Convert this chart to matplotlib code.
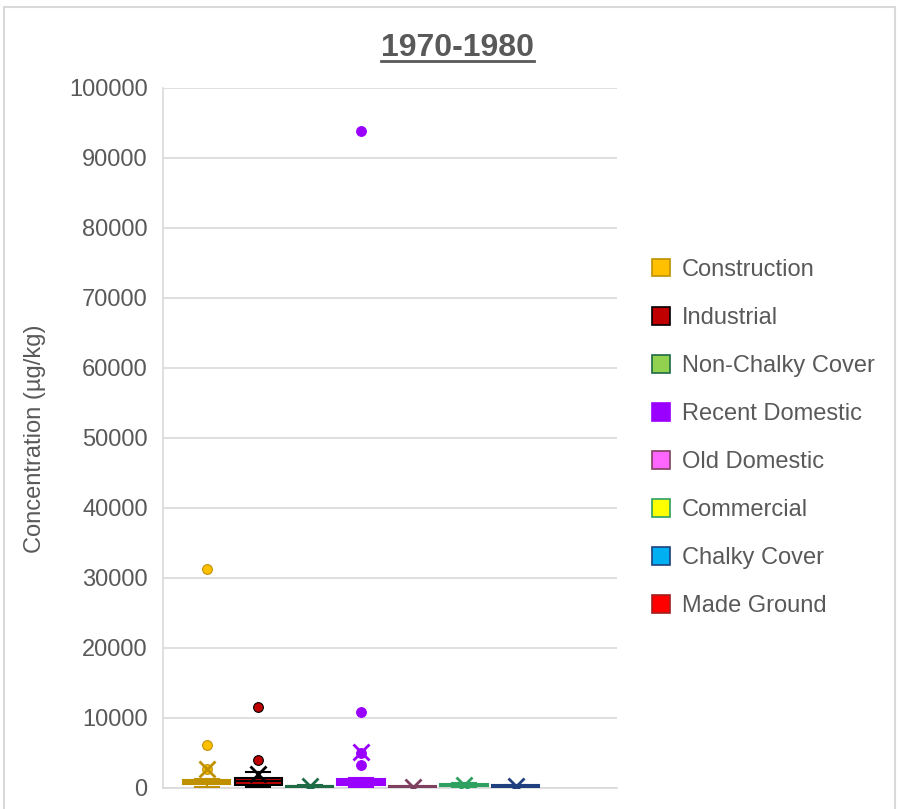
import matplotlib
matplotlib.use("Agg")
import matplotlib.pyplot as plt
from matplotlib.patches import Patch, Rectangle
from matplotlib.lines import Line2D

plt.rcParams['font.family'] = ['Liberation Sans', 'DejaVu Sans']

categories = ["Construction", "Industrial", "Non-Chalky Cover", "Recent Domestic",
              "Old Domestic", "Commercial", "Chalky Cover", "Made Ground"]

construction = [31300, 6200, 2700, 1300, 1250, 1200, 1150, 1100, 1000, 950, 900, 850,
                800, 700, 600, 500, 400, 300, 200, 100]
industrial = [11600, 4000, 2300, 1500, 1400, 1200, 1000, 800, 600, 400, 300, 200, 100]
non_chalky = [50, 100, 150, 200, 250, 300, 350, 400]
recent_domestic = [93800, 10900, 5000, 3300, 1500, 1400, 1300, 1200, 1100, 1000, 950,
                   900, 850, 800, 700, 650, 600, 500, 450, 400, 300, 250, 200, 150, 100]
old_domestic = [50, 100, 150, 200, 250, 300]
commercial = [100, 200, 300, 400, 500, 600, 700]
chalky = [100, 200, 300, 400, 500]
made_ground = []

series = [construction, industrial, non_chalky, recent_domestic,
          old_domestic, commercial, chalky, made_ground]

fills = ["#FFC000", "#C00000", "#92D050", "#9900FF", "#FF66FF", "#FFFF00", "#00B0F0", "#FF0000"]
edges = ["#BF9000", "#000000", "#1E6B45", "#9900FF", "#7F3F5F", "#2EA060", "#1F3F7F", "#A02020"]

y_ticks = list(range(0, 100001, 10000))

W, H = 899, 809
fig = plt.figure(figsize=(W / 100, H / 100), dpi=100)
ax = fig.add_axes([163 / W, 1 - 788 / H, (617 - 163) / W, (788 - 88) / H])

gray = "#595959"
for i, (vals, fc, ec) in enumerate(zip(series, fills, edges)):
    pos = i + 1
    if not vals:
        continue
    ax.boxplot([vals], positions=[pos], widths=0.92, patch_artist=True,
               showmeans=True, showfliers=True, whis=1.5,
               boxprops=dict(facecolor=fc, edgecolor=ec, linewidth=1.5),
               medianprops=dict(color=ec, linewidth=1.5),
               whiskerprops=dict(color=ec, linewidth=1.5),
               capprops=dict(color=ec, linewidth=1.5),
               meanprops=dict(marker='x', markeredgecolor=ec, markersize=11,
                              markeredgewidth=2.0),
               flierprops=dict(marker='o', markersize=7, markerfacecolor=fc,
                               markeredgecolor=ec, markeredgewidth=0.8),
               zorder=3)

ax.set_xlim(0.15, 8.97)
ax.set_ylim(0, 100000)
ax.set_yticks(y_ticks)
ax.set_yticklabels([str(v) for v in y_ticks])
ax.set_xticks([])
ax.tick_params(axis='y', length=0, labelsize=17, labelcolor=gray, pad=11)
ax.grid(axis='y', color="#D9D9D9", linewidth=1.2, zorder=0)
ax.set_axisbelow(True)
for s in ['top', 'right']:
    ax.spines[s].set_visible(False)
for s in ['left', 'bottom']:
    ax.spines[s].set_color("#D9D9D9")
    ax.spines[s].set_linewidth(1.2)

fig.text(35 / W, 1 - 439 / H, "Concentration (µg/kg)", rotation=90, ha='center',
         va='center', fontsize=17, color=gray)

title = fig.text(457.5 / W, 1 - 56 / H, "1970-1980", ha='center', va='baseline',
                 fontsize=23, fontweight='bold', color=gray)
fig.canvas.draw()
bb = title.get_window_extent()
fig.add_artist(Line2D([bb.x0 / W, bb.x1 / W], [1 - 61 / H, 1 - 61 / H],
                      color=gray, linewidth=2, transform=fig.transFigure))

handles = [Patch(facecolor=fc, edgecolor=ec, linewidth=1.2) for fc, ec in zip(fills, edges)]
fig.legend(handles, categories, loc='center left', bbox_to_anchor=(652 / W, 1 - 438 / H),
           frameon=False, fontsize=17, labelcolor=gray, handlelength=0.78,
           handleheight=0.78, handletextpad=0.5, labelspacing=1.1,
           borderpad=0, borderaxespad=0)

fig.add_artist(Rectangle((4 / W, -0.01), 891 / W, (809 - 7) / H + 0.01,
                         transform=fig.transFigure, fill=False,
                         edgecolor="#D9D9D9", linewidth=1.5))

fig.savefig("out.png", dpi=100)
